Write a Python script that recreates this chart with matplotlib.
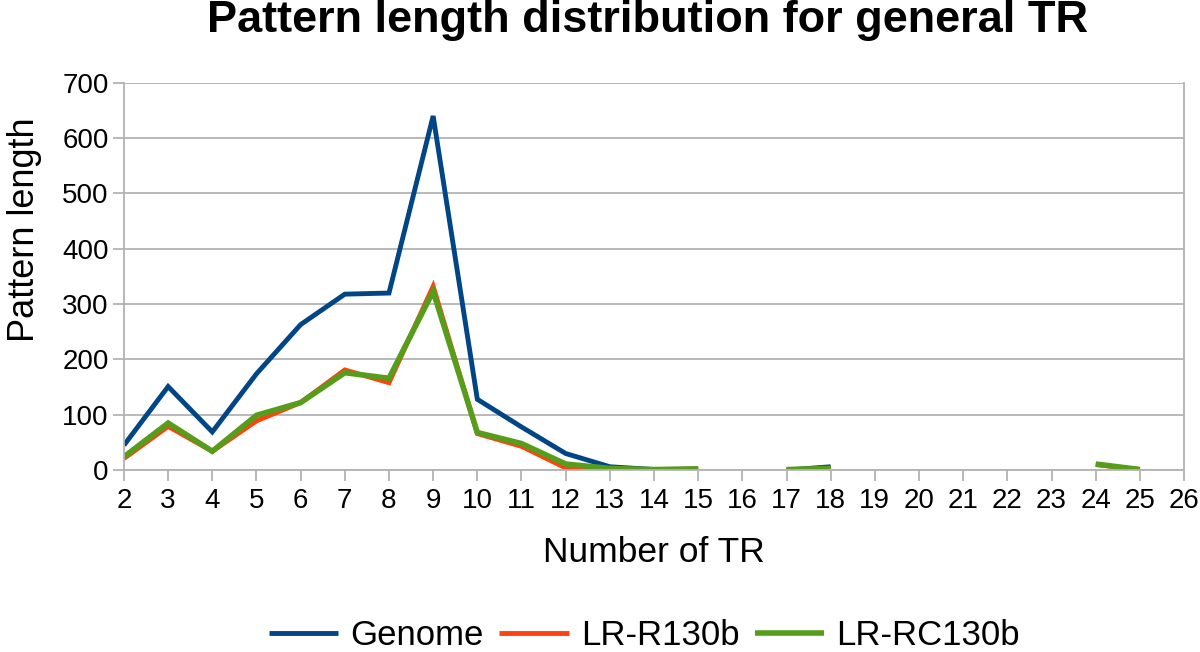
import numpy as np
import matplotlib.pyplot as plt

plt.rcParams['font.family'] = ['Liberation Sans', 'DejaVu Sans']

nan = np.nan
tr_counts = list(range(2, 26))
genome = [45, 151, 69, 174, 263, 318, 320, 640, 128, 78, 30, 6, 1, 2,
          nan, 0, 6, nan, nan, nan, nan, nan, nan, nan]
lr_r130b = [21, 79, 34, 89, 122, 181, 158, 332, 66, 43, 4, 1, 0, 2,
            nan, 0, 2, nan, nan, nan, nan, nan, 10, 1]
lr_rc130b = [24, 85, 34, 99, 122, 176, 166, 323, 68, 48, 11, 3, 1, 2,
             nan, 1, 3, nan, nan, nan, nan, nan, 11, 1]

series = [('Genome', genome, '#004586', 3.5),
          ('LR-R130b', lr_r130b, '#ff420e', 3.5),
          ('LR-RC130b', lr_rc130b, '#579d1c', 4.0)]

fig = plt.figure(figsize=(12, 6.52), dpi=100)
ax = fig.add_axes([0.1033, 0.279, 0.8834, 0.594])

for name, vals, color, lw in series:
    ax.plot(tr_counts, vals, color=color, linewidth=lw, label=name,
            solid_joinstyle='miter', solid_capstyle='butt')

grid_c = '#b3b3b3'
ax.set_xlim(2, 26)
ax.set_ylim(0, 700)
ax.set_xticks(range(2, 27))
ax.set_yticks(range(0, 701, 100))
ax.yaxis.grid(True, color=grid_c, linewidth=1.3)
ax.set_axisbelow(True)
for side in ['left', 'right', 'bottom']:
    ax.spines[side].set_color(grid_c)
    ax.spines[side].set_linewidth(1.3)
ax.spines['top'].set_visible(False)
ax.tick_params(axis='both', colors=grid_c, width=1.3, length=8,
               labelcolor='black', labelsize=20)
ax.tick_params(axis='x', pad=5)
ax.tick_params(axis='y', pad=3)

ax.set_xlabel('Number of TR', fontsize=25.5, labelpad=16)
ax.set_ylabel('Pattern length', fontsize=26)
ax.yaxis.set_label_coords(-0.077, 0.62)

fig.suptitle('Pattern length distribution for general TR', fontsize=32.5,
             fontweight='bold', x=0.54, y=1.0)

fig.legend(loc='lower center', bbox_to_anchor=(0.537, -0.048), ncol=3,
           frameon=False, fontsize=25, handlelength=2.0, handletextpad=0.35,
           columnspacing=0.45)

fig.savefig('out.png', dpi=100)
